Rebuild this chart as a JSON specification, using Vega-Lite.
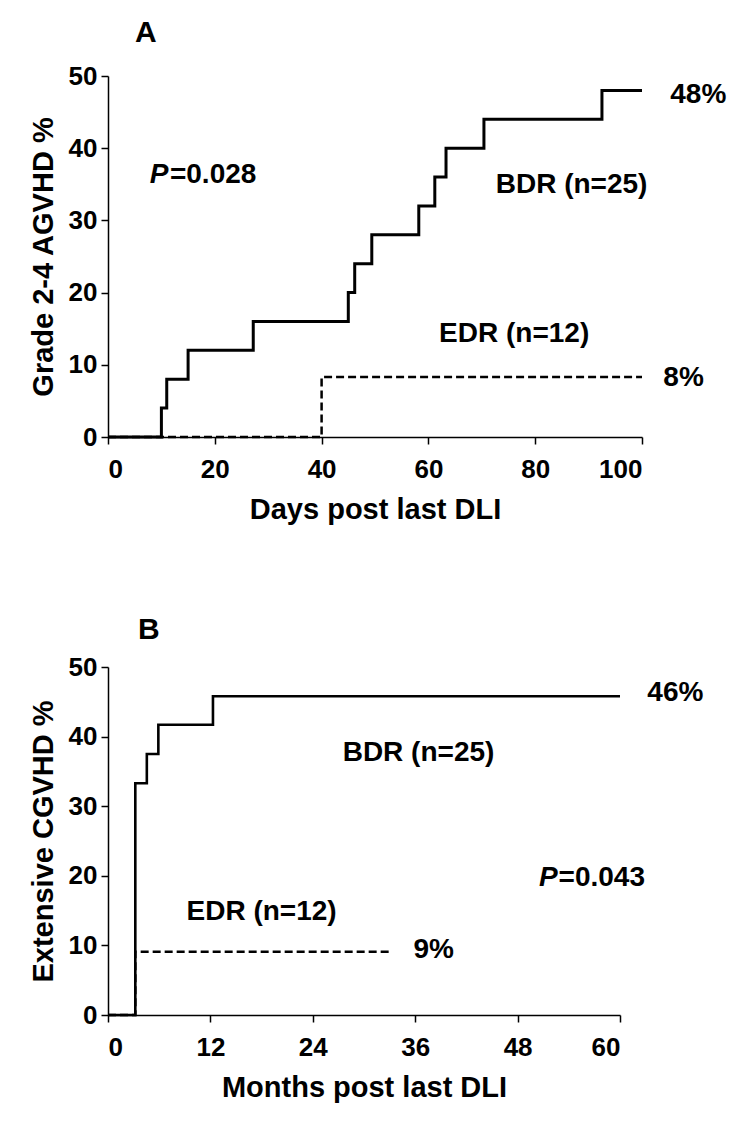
{
  "$schema": "https://vega.github.io/schema/vega-lite/v6.json",
  "background": "white",
  "padding": {"left": 29, "top": 18, "right": 5, "bottom": 5},
  "spacing": 91,
  "config": {
    "font": "Liberation Sans",
    "view": {"stroke": null},
    "axis": {
      "grid": false,
      "domainColor": "black",
      "domainWidth": 1.5,
      "tickColor": "black",
      "tickWidth": 1.5,
      "tickSize": 7,
      "labelFont": "Liberation Sans",
      "labelFontSize": 26,
      "labelFontWeight": "bold",
      "labelColor": "black",
      "titleFont": "Liberation Sans",
      "titleFontSize": 29,
      "titleFontWeight": "bold",
      "titleColor": "black"
    },
    "axisX": {"labelPadding": 12, "titlePadding": 13},
    "axisY": {"labelPadding": 4, "titlePadding": 10}
  },
  "datasets": {
    "a_curves": [
      {"group": "BDR", "t": 0, "pct": 0},
      {"group": "BDR", "t": 10, "pct": 4},
      {"group": "BDR", "t": 11, "pct": 8},
      {"group": "BDR", "t": 15, "pct": 12},
      {"group": "BDR", "t": 27.2, "pct": 16},
      {"group": "BDR", "t": 45, "pct": 20},
      {"group": "BDR", "t": 46.2, "pct": 24},
      {"group": "BDR", "t": 49.4, "pct": 28},
      {"group": "BDR", "t": 58.2, "pct": 32},
      {"group": "BDR", "t": 61.2, "pct": 36},
      {"group": "BDR", "t": 63.3, "pct": 40},
      {"group": "BDR", "t": 70.4, "pct": 44},
      {"group": "BDR", "t": 92.5, "pct": 48},
      {"group": "BDR", "t": 100, "pct": 48},
      {"group": "EDR", "t": 0, "pct": 0},
      {"group": "EDR", "t": 40, "pct": 8.3},
      {"group": "EDR", "t": 100, "pct": 8.3}
    ],
    "a_text": [
      {"label": "P", "italic": true, "t": 7.8, "pct": 36.3},
      {"label": "=0.028", "italic": false, "t": 11.6, "pct": 36.3},
      {"label": "BDR (n=25)", "italic": false, "t": 72.6, "pct": 34.9},
      {"label": "EDR (n=12)", "italic": false, "t": 62, "pct": 14.2},
      {"label": "48%", "italic": false, "t": 105.3, "pct": 47.4},
      {"label": "8%", "italic": false, "t": 104, "pct": 8.2}
    ],
    "b_curves": [
      {"group": "BDR", "t": 0, "pct": 0},
      {"group": "BDR", "t": 3.2, "pct": 33.3},
      {"group": "BDR", "t": 4.55, "pct": 37.5},
      {"group": "BDR", "t": 5.9, "pct": 41.7},
      {"group": "BDR", "t": 12.3, "pct": 45.8},
      {"group": "BDR", "t": 60, "pct": 45.8},
      {"group": "EDR", "t": 0, "pct": 0},
      {"group": "EDR", "t": 3.2, "pct": 9.1},
      {"group": "EDR", "t": 33.2, "pct": 9.1}
    ],
    "b_text": [
      {"label": "46%", "italic": false, "t": 63.2, "pct": 46.3},
      {"label": "BDR (n=25)", "italic": false, "t": 27.5, "pct": 37.6},
      {"label": "P", "italic": true, "t": 50.5, "pct": 19.7},
      {"label": "=0.043", "italic": false, "t": 52.8, "pct": 19.7},
      {"label": "EDR (n=12)", "italic": false, "t": 9.2, "pct": 14.8},
      {"label": "9%", "italic": false, "t": 35.8, "pct": 9.3}
    ]
  },
  "vconcat": [
    {
      "width": 534,
      "height": 361,
      "title": {"text": "A", "anchor": "start", "frame": "group", "dx": 27, "offset": 15, "fontSize": 30, "fontWeight": "bold", "font": "Liberation Sans", "color": "black"},
      "layer": [
        {
          "data": {"name": "a_curves"},
          "transform": [{"filter": "datum.group === 'BDR'"}],
          "mark": {"type": "line", "interpolate": "step-after", "color": "black", "strokeWidth": 3},
          "encoding": {
            "x": {"field": "t", "type": "quantitative", "scale": {"domain": [0, 100], "nice": false}, "axis": {"values": [0, 20, 40, 60, 80, 100], "title": "Days post last DLI"}},
            "y": {"field": "pct", "type": "quantitative", "scale": {"domain": [0, 50], "nice": false}, "axis": {"values": [0, 10, 20, 30, 40, 50], "title": "Grade 2-4 AGVHD %"}}
          }
        },
        {
          "data": {"name": "a_curves"},
          "transform": [{"filter": "datum.group === 'EDR'"}],
          "mark": {"type": "line", "interpolate": "step-after", "color": "black", "strokeWidth": 2.5, "strokeDash": [8, 4]},
          "encoding": {
            "x": {"field": "t", "type": "quantitative", "scale": {"domain": [0, 100], "nice": false}},
            "y": {"field": "pct", "type": "quantitative", "scale": {"domain": [0, 50], "nice": false}}
          }
        },
        {
          "data": {"name": "a_text"},
          "transform": [{"filter": "!datum.italic"}],
          "mark": {"type": "text", "align": "left", "baseline": "middle", "fontSize": 28, "fontWeight": "bold", "font": "Liberation Sans", "color": "black"},
          "encoding": {
            "x": {"field": "t", "type": "quantitative", "scale": {"domain": [0, 100], "nice": false}},
            "y": {"field": "pct", "type": "quantitative", "scale": {"domain": [0, 50], "nice": false}},
            "text": {"field": "label"}
          }
        },
        {
          "data": {"name": "a_text"},
          "transform": [{"filter": "datum.italic"}],
          "mark": {"type": "text", "align": "left", "baseline": "middle", "fontSize": 28, "fontWeight": "bold", "fontStyle": "italic", "font": "Liberation Sans", "color": "black"},
          "encoding": {
            "x": {"field": "t", "type": "quantitative", "scale": {"domain": [0, 100], "nice": false}},
            "y": {"field": "pct", "type": "quantitative", "scale": {"domain": [0, 50], "nice": false}},
            "text": {"field": "label"}
          }
        }
      ]
    },
    {
      "width": 512,
      "height": 348,
      "title": {"text": "B", "anchor": "start", "frame": "group", "dx": 30, "offset": 9, "fontSize": 30, "fontWeight": "bold", "font": "Liberation Sans", "color": "black"},
      "layer": [
        {
          "data": {"name": "b_curves"},
          "transform": [{"filter": "datum.group === 'BDR'"}],
          "mark": {"type": "line", "interpolate": "step-after", "color": "black", "strokeWidth": 2.6},
          "encoding": {
            "x": {"field": "t", "type": "quantitative", "scale": {"domain": [0, 60], "nice": false}, "axis": {"values": [0, 12, 24, 36, 48, 60], "title": "Months post last DLI"}},
            "y": {"field": "pct", "type": "quantitative", "scale": {"domain": [0, 50], "nice": false}, "axis": {"values": [0, 10, 20, 30, 40, 50], "title": "Extensive CGVHD %"}}
          }
        },
        {
          "data": {"name": "b_curves"},
          "transform": [{"filter": "datum.group === 'EDR'"}],
          "mark": {"type": "line", "interpolate": "step-after", "color": "black", "strokeWidth": 2.5, "strokeDash": [8, 4]},
          "encoding": {
            "x": {"field": "t", "type": "quantitative", "scale": {"domain": [0, 60], "nice": false}},
            "y": {"field": "pct", "type": "quantitative", "scale": {"domain": [0, 50], "nice": false}}
          }
        },
        {
          "data": {"name": "b_text"},
          "transform": [{"filter": "!datum.italic"}],
          "mark": {"type": "text", "align": "left", "baseline": "middle", "fontSize": 28, "fontWeight": "bold", "font": "Liberation Sans", "color": "black"},
          "encoding": {
            "x": {"field": "t", "type": "quantitative", "scale": {"domain": [0, 60], "nice": false}},
            "y": {"field": "pct", "type": "quantitative", "scale": {"domain": [0, 50], "nice": false}},
            "text": {"field": "label"}
          }
        },
        {
          "data": {"name": "b_text"},
          "transform": [{"filter": "datum.italic"}],
          "mark": {"type": "text", "align": "left", "baseline": "middle", "fontSize": 28, "fontWeight": "bold", "fontStyle": "italic", "font": "Liberation Sans", "color": "black"},
          "encoding": {
            "x": {"field": "t", "type": "quantitative", "scale": {"domain": [0, 60], "nice": false}},
            "y": {"field": "pct", "type": "quantitative", "scale": {"domain": [0, 50], "nice": false}},
            "text": {"field": "label"}
          }
        }
      ]
    }
  ]
}
